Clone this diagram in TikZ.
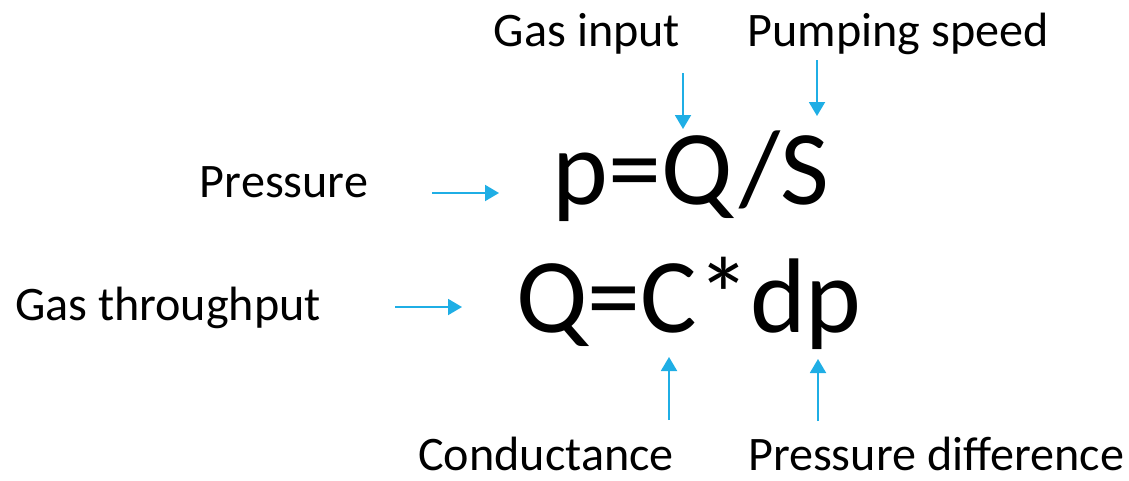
\documentclass[tikz,border=0pt]{standalone}
\usepackage{fontspec}
\setmainfont{Carlito}
\usetikzlibrary{arrows.meta}
\definecolor{pointerblue}{HTML}{1FAEE5}

\begin{document}
\begin{tikzpicture}[
  x=0.02cm, y=-0.02cm,
  term/.style={inner sep=0pt, anchor=base, font=\fontsize{27.4}{31}\selectfont},
  formula/.style={inner sep=0pt, anchor=base, font=\fontsize{60.4}{68}\selectfont},
  pointer/.style={-{Triangle[length=0.28cm, width=0.32cm]}, line width=1.1pt, color=pointerblue}
]
  \useasboundingbox (0,0) rectangle (1129,480);

  % formulas
  \node[formula] (pqs) at (691,204) {p=Q/S};
  \node[formula] (qcdp) at (689,332) {Q=C*dp};

  % labels
  \node[term] (gasin)   at (587,46)  {Gas input};
  \node[term] (pumping) at (898,46)  {Pumping speed};
  \node[term] (press)   at (284,197) {Pressure};
  \node[term] (thru)    at (168,320) {Gas throughput};
  \node[term] (cond)    at (546,470) {Conductance};
  \node[term] (pdiff)   at (936,470) {Pressure difference};

  % arrow ends
  \coordinate (gasin-s) at (683,73);  \coordinate (gasin-e) at (683,129);
  \coordinate (pump-s) at (817,60);   \coordinate (pump-e) at (817,116);
  \coordinate (press-s) at (432,193); \coordinate (press-e) at (499,193);
  \coordinate (thru-s) at (395,307);  \coordinate (thru-e) at (462,307);
  \coordinate (cond-s) at (669,420);  \coordinate (cond-e) at (669,357);
  \coordinate (pdiff-s) at (818,421); \coordinate (pdiff-e) at (818,359);

  \draw[pointer] (gasin-s) -- (gasin-e);
  \draw[pointer] (pump-s) -- (pump-e);
  \draw[pointer] (press-s) -- (press-e);
  \draw[pointer] (thru-s) -- (thru-e);
  \draw[pointer] (cond-s) -- (cond-e);
  \draw[pointer] (pdiff-s) -- (pdiff-e);
\end{tikzpicture}
\end{document}
